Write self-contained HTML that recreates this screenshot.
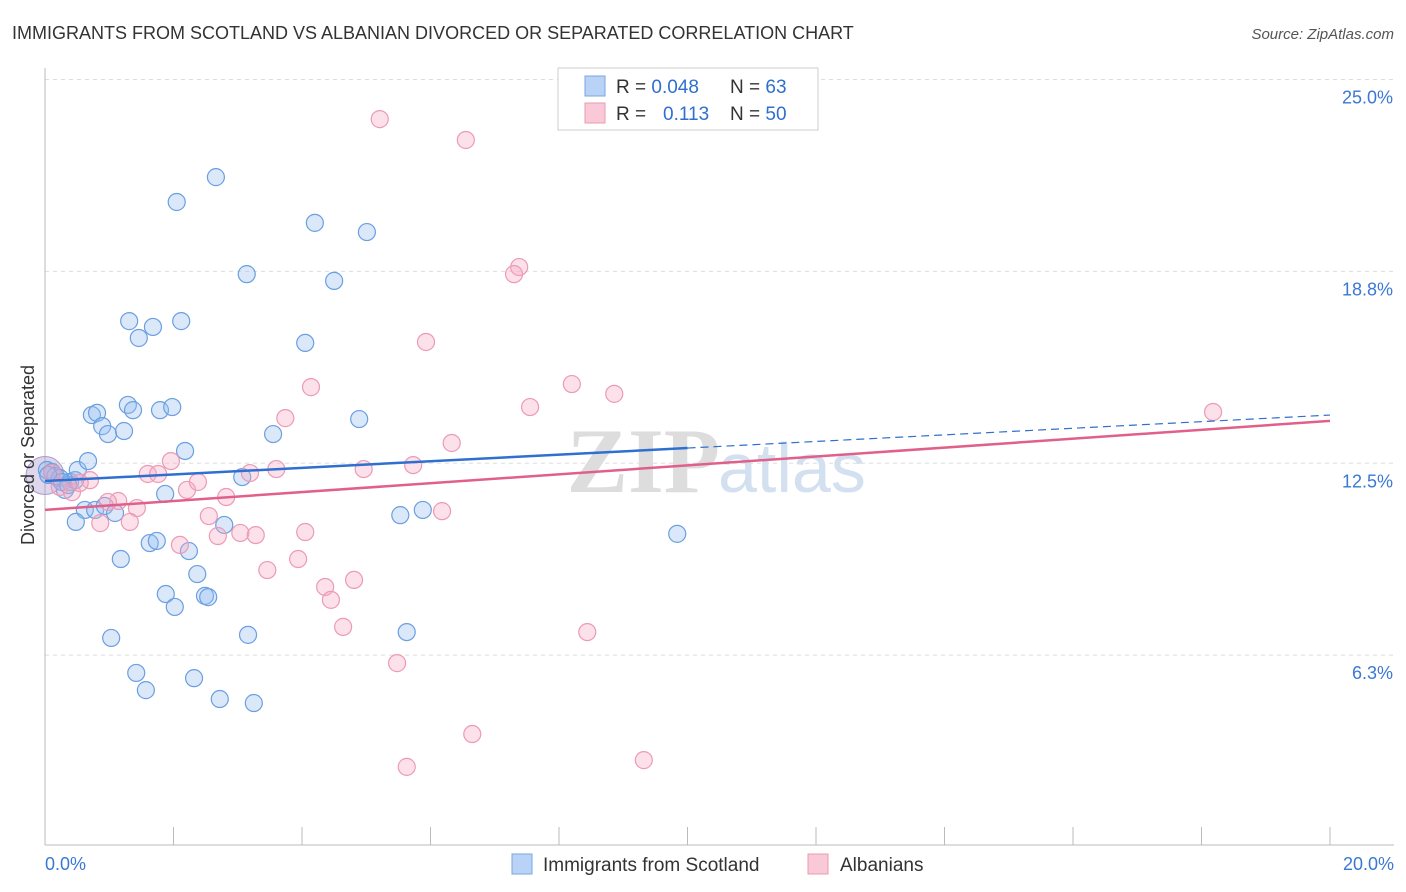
<!DOCTYPE html>
<html><head><meta charset="utf-8"><style>
body{margin:0;background:#fff;font-family:"Liberation Sans",sans-serif;}
svg{display:block}
</style></head><body>
<svg width="1406" height="892" xmlns="http://www.w3.org/2000/svg">
<text x="12" y="39" font-size="18" fill="#333">IMMIGRANTS FROM SCOTLAND VS ALBANIAN DIVORCED OR SEPARATED CORRELATION CHART</text>
<text x="1394" y="39" font-size="15" fill="#555" font-style="italic" text-anchor="end">Source: ZipAtlas.com</text>
<g id="grid"></g>
<text x="720" y="492" font-size="92" fill="#ddd" text-anchor="end" font-family="Liberation Serif" font-weight="bold">ZIP</text>
<text x="718" y="492" font-size="70" fill="#d3e0f0">atlas</text>
<g id="marks"></g>
<text transform="translate(34,455) rotate(-90)" font-size="18" fill="#333" text-anchor="middle">Divorced or Separated</text>
<g>
<rect x="558" y="68" width="260" height="62" fill="#fff" stroke="#ccc"/>
<rect x="585" y="76" width="20" height="20" fill="#b8d3f5" stroke="#7aa7e0"/>
<rect x="585" y="103" width="20" height="20" fill="#f9c9d8" stroke="#ec9ab5"/>
<text x="616" y="93" font-size="19" fill="#333">R = <tspan fill="#2f6fd0">0.048</tspan></text>
<text x="730" y="93" font-size="19" fill="#333">N = <tspan fill="#2f6fd0">63</tspan></text>
<text x="616" y="120" font-size="19" fill="#333">R = </text>
<text x="663" y="120" font-size="19" fill="#2f6fd0">0.113</text>
<text x="730" y="120" font-size="19" fill="#333">N = <tspan fill="#2f6fd0">50</tspan></text>
</g>
<g>
<rect x="512" y="854" width="20" height="20" fill="#b8d3f5" stroke="#7aa7e0"/>
<text x="543" y="871" font-size="19" fill="#333">Immigrants from Scotland</text>
<rect x="808" y="854" width="20" height="20" fill="#f9c9d8" stroke="#ec9ab5"/>
<text x="840" y="871" font-size="19" fill="#333">Albanians</text>
</g>
</svg>
<script>
const xTicks=[0,2,4,6,8,10,12,14,16,18,20];
const yTicks=[6.25,12.5,18.75,25];
const yTickLabels=["6.3%","12.5%","18.8%","25.0%"];
const xEndLabels=["0.0%","20.0%"];
const scotX=[0.03,0.11,0.16,0.23,0.31,0.39,0.47,0.51,0.67,0.62,0.78,0.93,1.09,0.48,0.73,0.81,0.89,0.98,1.23,1.29,1.37,1.79,1.98,2.18,1.31,1.46,1.68,2.12,2.05,2.66,3.14,4.20,5.01,4.50,4.05,3.55,4.89,3.07,1.87,2.79,2.24,1.63,1.74,1.18,2.37,1.88,2.02,2.49,2.54,3.16,1.03,1.42,1.57,2.32,2.72,3.25,5.63,5.53,5.88,9.84,0.05,0.26,0.36];
const scotY=[12.28,12.21,12.08,12.02,11.63,11.89,11.95,12.28,12.57,10.98,10.98,11.11,10.88,10.59,14.07,14.14,13.71,13.45,13.55,14.40,14.23,14.23,14.33,12.90,17.13,16.58,16.94,17.13,21.01,21.82,18.66,20.33,20.03,18.44,16.42,13.45,13.94,12.05,11.50,10.49,9.64,9.90,9.97,9.38,8.89,8.24,7.82,8.18,8.14,6.91,6.81,5.67,5.11,5.50,4.82,4.69,7.00,10.81,10.98,10.20,12.12,11.89,11.79];
const albX=[5.21,6.55,7.38,7.30,5.93,4.14,8.20,8.86,7.55,3.74,6.33,5.73,4.96,3.60,3.19,1.60,1.76,1.96,2.21,2.38,2.82,1.14,1.43,0.98,0.70,0.23,0.42,0.86,1.32,2.55,2.69,3.04,3.28,4.05,2.10,3.94,3.46,4.36,4.45,4.81,4.64,6.18,8.44,5.48,6.65,5.63,9.32,18.18,0.11,0.54];
const albY=[23.71,23.03,18.89,18.66,16.45,14.98,15.08,14.76,14.33,13.97,13.16,12.44,12.31,12.31,12.18,12.15,12.15,12.57,11.63,11.89,11.40,11.27,11.04,11.24,11.95,11.73,11.56,10.55,10.59,10.78,10.13,10.23,10.16,10.26,9.84,9.38,9.02,8.47,8.05,8.70,7.17,10.94,7.00,5.99,3.68,2.61,2.83,14.17,12.18,11.86];
const scotTrend=[11.92,0.1075];
const albTrend=[10.98,0.145];
const X=v=>45+v*64.25, Y=v=>847-v*30.7;
const NS="http://www.w3.org/2000/svg";
function mk(t,a,p){const e=document.createElementNS(NS,t);for(const k in a)e.setAttribute(k,a[k]);p.appendChild(e);return e;}
const grid=document.getElementById('grid'),marks=document.getElementById('marks');
yTicks.forEach((t,i)=>{
 const l=mk('line',{x1:45,x2:1394,y1:Y(t),y2:Y(t),stroke:'#ddd','stroke-dasharray':'4,4'},grid);
 
 
 const tx=mk('text',{x:1393,y:Y(t)+24,'font-size':18,fill:'#3a78d4','text-anchor':'end'},grid);
 tx.textContent=yTickLabels[i];
 
 
});
mk('line',{x1:45,x2:45,y1:68,y2:845,stroke:'#bbb'},grid);
mk('line',{x1:45,x2:1394,y1:845,y2:845,stroke:'#bbb'},grid);
xTicks.forEach(t=>{
 const l=mk('line',{x1:X(t),x2:X(t),y1:827,y2:845,stroke:'#bbb'},grid);
 
 
});
[[0,'start',45],[20,'end',1394]].forEach((d,i)=>{
 const tx=mk('text',{x:d[2],y:870,'font-size':18,fill:'#3a78d4','text-anchor':d[1]},grid);
 tx.textContent=xEndLabels[i];
 
 
});
const big=mk('circle',{cx:X(0),cy:Y(12.1),r:19,fill:'rgba(160,140,200,0.35)',stroke:'#a99ad0'},marks);


scotX.forEach((v,i)=>{
 const c=mk('circle',{cx:X(v),cy:Y(scotY[i]),r:8.5,fill:'rgba(150,190,240,0.35)',stroke:'#6a9fe0','stroke-width':1.2},marks);
 
 
});
albX.forEach((v,i)=>{
 const c=mk('circle',{cx:X(v),cy:Y(albY[i]),r:8.5,fill:'rgba(245,170,195,0.35)',stroke:'#ec9ab5','stroke-width':1.2},marks);
 
 
});
const sl=mk('line',{x1:X(0),y1:Y(scotTrend[0]),x2:X(10),y2:Y(scotTrend[0]+10*scotTrend[1]),stroke:'#2f6fd0','stroke-width':2.5},marks);


const sd=mk('line',{x1:X(10),y1:Y(scotTrend[0]+10*scotTrend[1]),x2:X(20),y2:Y(scotTrend[0]+20*scotTrend[1]),stroke:'#2f6fd0','stroke-width':1.2,'stroke-dasharray':'8,5'},marks);


const al=mk('line',{x1:X(0),y1:Y(albTrend[0]),x2:X(20),y2:Y(albTrend[0]+20*albTrend[1]),stroke:'#e0608a','stroke-width':2.5},marks);


</script>
</body></html>
